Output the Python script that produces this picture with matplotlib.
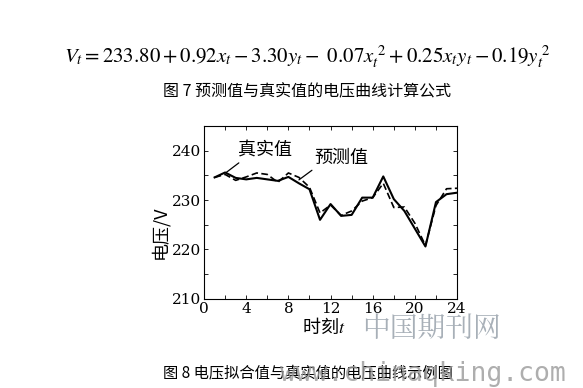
import matplotlib
matplotlib.use('Agg')
import matplotlib.pyplot as plt
from matplotlib.ticker import MultipleLocator

plt.rcParams['mathtext.fontset'] = 'stix'

# data
hours = list(range(1, 25))
true_v = [234.6, 235.6, 234.5, 234.2, 234.5, 234.2, 233.9, 234.7, 233.4, 232.2,
          226.0, 229.2, 226.8, 227.0, 230.5, 230.5, 234.8, 230.2, 227.8, 224.2,
          220.6, 229.6, 231.2, 231.5]
pred_v = [234.6, 235.2, 234.0, 234.7, 235.5, 235.2, 233.6, 235.5, 234.6, 232.6,
          227.4, 229.0, 226.9, 227.8, 229.8, 230.5, 233.4, 228.5, 228.6, 225.3,
          220.8, 228.9, 232.3, 232.4]
xticks = [0, 4, 8, 12, 16, 20, 24]
yticks = [210, 220, 230, 240]

fig = plt.figure(figsize=(5.83, 3.88), dpi=100)
cjk = ['Noto Sans CJK SC', 'DejaVu Sans']

# formula and caption above the chart
fig.text(0.527, 0.853,
         r'$V_t = 233.80 + 0.92x_t - 3.30y_t -\ 0.07x_t^{\ 2} + 0.25x_t y_t - 0.19y_t^{\ 2}$',
         ha='center', va='center', fontsize=15)
fig.text(0.527, 0.763, '图 7 预测值与真实值的电压曲线计算公式',
         ha='center', va='center', fontsize=11.5, family=cjk)

ax = fig.add_axes([0.350, 0.230, 0.434, 0.445])
ax.plot(hours, true_v, color='black', lw=1.5)
ax.plot(hours, pred_v, color='black', lw=1.2, ls=(0, (4, 2)))

ax.set_xlim(0, 24)
ax.set_ylim(210, 245)
ax.set_xticks(xticks, labels=[str(v) for v in xticks], fontfamily='DejaVu Serif', fontsize=11)
ax.set_yticks(yticks, labels=[str(v) for v in yticks], fontfamily='DejaVu Serif', fontsize=11)
ax.xaxis.set_minor_locator(MultipleLocator(2))
ax.yaxis.set_minor_locator(MultipleLocator(5))
ax.tick_params(which='both', direction='in', top=True, right=True, length=3, width=0.6)
ax.tick_params(axis='x', pad=2)
ax.tick_params(axis='y', pad=2)
for s in ax.spines.values():
    s.set_linewidth(0.8)

# labels on the curves
ax.annotate('真实值', xy=(2.1, 235.6), xytext=(5.8, 240.1), ha='center', va='center',
            fontsize=13, family=cjk,
            arrowprops=dict(arrowstyle='-', color='black', lw=0.9, relpos=(0.1, 0),
                            shrinkA=1, shrinkB=0))
ax.annotate('预测值', xy=(9.0, 234.1), xytext=(13.0, 238.6), ha='center', va='center',
            fontsize=13, family=cjk,
            arrowprops=dict(arrowstyle='-', color='black', lw=0.9, relpos=(0.05, 0),
                            shrinkA=1, shrinkB=0))

fig.text(0.275, 0.402, '电压/V', rotation=90, ha='center', va='center',
         fontsize=13, family=cjk)
fig.text(0.555, 0.157, '时刻$t$', ha='center', va='center', fontsize=13, family=cjk)

# watermark and lower caption
fig.text(0.740, 0.152, '中国期刊网', ha='center', va='center', fontsize=20,
         family=['Noto Serif CJK SC', 'Noto Sans CJK SC'], color='#a8b0b8')
fig.text(0.528, 0.040, '图 8 电压拟合值与真实值的电压曲线示例图',
         ha='center', va='center', fontsize=11, family=cjk)
fig.text(0.480, 0.036, 'www.chinaqking.com', ha='left', va='center', fontsize=19,
         family='DejaVu Sans Mono', color='#9a9a9a', alpha=0.8)

fig.savefig('out.png', dpi=100)
